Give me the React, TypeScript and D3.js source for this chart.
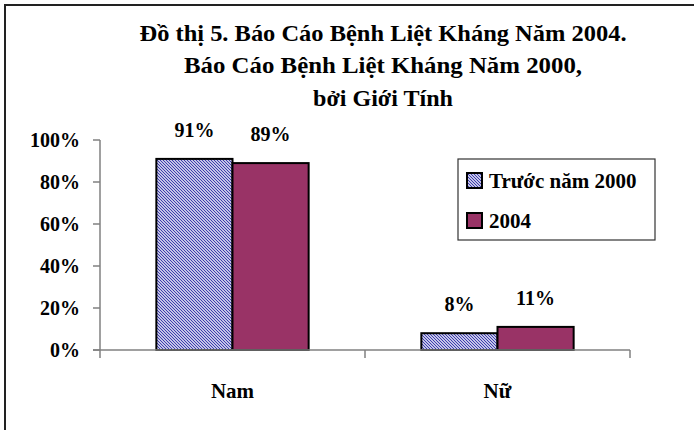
import React from "react";
import * as d3 from "d3";

const categories = ["Nam", "Nữ"];
const seriesNames = ["Trước năm 2000", "2004"];
const before2000 = [0.91, 0.08];
const y2004 = [0.89, 0.11];
const yTicks = [0, 0.2, 0.4, 0.6, 0.8, 1.0];
const titleLines = [
  "Đồ thị 5. Báo Cáo Bệnh Liệt Kháng Năm 2004.",
  "Báo Cáo Bệnh Liệt Kháng Năm 2000,",
  "bởi Giới Tính",
];

const W = 694;
const H = 430;
const FONT = "'Liberation Serif', 'Times New Roman', serif";

export default function App() {
  const x = d3.scaleBand<string>().domain(categories).range([100, 630]).padding(0);
  const inner = d3
    .scaleBand<string>()
    .domain(seriesNames)
    .range([0, x.bandwidth()])
    .paddingInner(0)
    .paddingOuter(0.74);
  const y = d3.scaleLinear().domain([0, 1]).range([350, 140]);
  const series = [before2000, y2004];
  const fills = ["url(#hatch)", "#993366"];
  const titleWidths = [487, 398, 140];
  const titleY = [41, 73, 106];

  return (
    <svg
      width={W}
      height={H}
      style={{ position: "absolute", left: 0, top: 0, background: "#fff" }}
      fontFamily={FONT}
    >
      <defs>
        <pattern id="hatch" patternUnits="userSpaceOnUse" width="3" height="3">
          <rect width="3" height="3" fill="#ffffff" />
          <path d="M-1,-1 L4,4 M-1,2 L1,4 M2,-1 L4,1" stroke="#3333aa" strokeWidth="1.1" />
        </pattern>
      </defs>
      <rect x={0} y={0} width={W} height={H} fill="#fff" />
      {/* outer border */}
      <path d={`M5,${H} L5,5 L${W},5`} fill="none" stroke="#222" strokeWidth={2} />

      {/* title */}
      {titleLines.map((t, i) => (
        <text
          key={i}
          x={383}
          y={titleY[i]}
          textAnchor="middle"
          fontWeight="bold"
          fontSize={24}
          textLength={titleWidths[i]}
          lengthAdjust="spacingAndGlyphs"
        >
          {t}
        </text>
      ))}

      {/* bars */}
      {categories.map((c, ci) =>
        seriesNames.map((s, si) => {
          const v = series[si][ci];
          const bx = (x(c) ?? 0) + (inner(s) ?? 0);
          return (
            <rect
              key={c + s}
              x={bx}
              y={y(v)}
              width={inner.bandwidth()}
              height={y(0) - y(v)}
              fill={fills[si]}
              stroke="#000"
              strokeWidth={2}
            />
          );
        })
      )}

      {/* data labels */}
      {categories.map((c, ci) =>
        seriesNames.map((s, si) => {
          const v = series[si][ci];
          const cx = (x(c) ?? 0) + (inner(s) ?? 0) + inner.bandwidth() / 2;
          return (
            <text
              key={"l" + c + s}
              x={cx}
              y={y(v) - 22}
              textAnchor="middle"
              fontWeight="bold"
              fontSize={20}
            >
              {Math.round(v * 100)}%
            </text>
          );
        })
      )}

      {/* y axis */}
      <line x1={100} x2={100} y1={y(1)} y2={y(0)} stroke="#808080" strokeWidth={1.5} />
      {yTicks.map((t) => (
        <g key={t}>
          <line x1={93} x2={100} y1={y(t)} y2={y(t)} stroke="#808080" strokeWidth={1.5} />
          <text
            x={80}
            y={y(t) + 7}
            textAnchor="end"
            fontWeight="bold"
            fontSize={20}
          >
            {Math.round(t * 100)}%
          </text>
        </g>
      ))}

      {/* x axis */}
      <line x1={93} x2={630} y1={y(0)} y2={y(0)} stroke="#808080" strokeWidth={1.5} />
      {[100, 365, 630].map((px) => (
        <line key={px} x1={px} x2={px} y1={y(0)} y2={y(0) + 8} stroke="#808080" strokeWidth={1.5} />
      ))}
      {categories.map((c) => (
        <text
          key={"c" + c}
          x={(x(c) ?? 0) + x.bandwidth() / 2}
          y={398}
          textAnchor="middle"
          fontWeight="bold"
          fontSize={21}
        >
          {c}
        </text>
      ))}

      {/* legend */}
      <rect x={458} y={159} width={197} height={81} fill="#fff" stroke="#333" strokeWidth={1.2} />
      {seriesNames.map((s, i) => (
        <g key={"lg" + s}>
          <rect
            x={467}
            y={173 + i * 40}
            width={15}
            height={15}
            fill={fills[i]}
            stroke="#000"
            strokeWidth={2}
          />
          <text x={489} y={188 + i * 40} fontWeight="bold" fontSize={21}>
            {s}
          </text>
        </g>
      ))}
    </svg>
  );
}
